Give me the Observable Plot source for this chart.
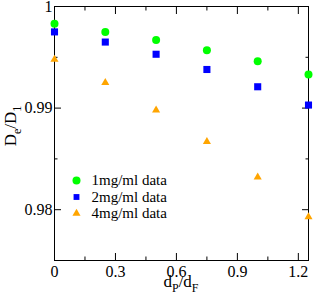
<!DOCTYPE html>
<html>
<head>
<meta charset="utf-8">
<script src="https://cdn.jsdelivr.net/npm/d3@7"></script>
<script src="https://cdn.jsdelivr.net/npm/@observablehq/plot@0.6"></script>
<style>
  html, body { margin: 0; padding: 0; background: #fff; }
  #chart svg { display: block; }
</style>
</head>
<body>
<div id="chart"></div>
<script>
const ratios = [0, 0.25, 0.5, 0.75, 1.0, 1.25];
const series1 = [0.9983, 0.9975, 0.9967, 0.9957, 0.9946, 0.9933];
const series2 = [0.9975, 0.9965, 0.9953, 0.9938, 0.9921, 0.9903];
const series4 = [0.9948, 0.9925, 0.9898, 0.9867, 0.9832, 0.9793];
const seriesNames = ["1mg/ml data", "2mg/ml data", "4mg/ml data"];
const seriesColors = ["#00ff00", "#0000ff", "#ffa500"];
const seriesSymbols = ["circle", "square", "triangle"];
const xMajor = [0, 0.3, 0.6, 0.9, 1.2];
const xMinor = [0.15, 0.45, 0.75, 1.05];
const yMajor = [0.98, 0.99, 1];
const yMinor = [0.985, 0.995];

const allValues = [series1, series2, series4];
const data = [];
allValues.forEach((vals, s) => vals.forEach((v, i) => data.push({x: ratios[i], y: v, s})));
const legend = seriesNames.map((name, s) => ({name, s}));

const font = "'Liberation Serif', 'Times New Roman', serif";
const fmtY = d => d === 1 ? "1" : d3.format(".2f")(d);
const fmtX = d => d === 0 ? "0" : String(d);
const tickOpts = {strokeWidth: 1, label: null};

const plot = Plot.plot({
  width: 313,
  height: 300,
  marginLeft: 54,
  marginTop: 6,
  marginRight: 5,
  marginBottom: 40,
  style: {fontFamily: font, fontSize: "16px", color: "#000", background: "#fff"},
  x: {domain: [0, 1.25]},
  y: {domain: [0.975, 1]},
  marks: [
    Plot.axisX(xMajor, {anchor: "bottom", tickSize: -7, tickFormat: fmtX, tickPadding: 12, fontSize: 16, ...tickOpts}),
    Plot.axisX(xMinor, {anchor: "bottom", tickSize: -3.5, text: null, ...tickOpts}),
    Plot.axisX(xMajor, {anchor: "top", tickSize: -7, text: null, ...tickOpts}),
    Plot.axisX(xMinor, {anchor: "top", tickSize: -3.5, text: null, ...tickOpts}),
    Plot.axisY(yMajor, {anchor: "left", tickSize: -7, tickFormat: fmtY, tickPadding: 9, fontSize: 16, ...tickOpts}),
    Plot.axisY(yMinor, {anchor: "left", tickSize: -3.5, text: null, ...tickOpts}),
    Plot.axisY(yMajor, {anchor: "right", tickSize: -7, text: null, ...tickOpts}),
    Plot.axisY(yMinor, {anchor: "right", tickSize: -3.5, text: null, ...tickOpts}),
    Plot.frame({stroke: "#000", strokeWidth: 1}),
    ...seriesNames.map((n, s) => Plot.dot(data.filter(d => d.s === s), {
      x: "x", y: "y", symbol: () => seriesSymbols[s], fill: seriesColors[s], stroke: "none",
      r: s === 2 ? 3 : 4
    })),
    ...legend.map((d, i) => Plot.dot([d], {
      frameAnchor: "top-left", dx: 22, dy: 174 + i * 16.5,
      symbol: () => seriesSymbols[i], fill: seriesColors[i], r: i === 2 ? 3 : (i === 1 ? 3.3 : 4)
    })),
    ...legend.map((d, i) => Plot.text([d], {
      frameAnchor: "top-left", dx: 37, dy: 174 + i * 16.5, text: "name",
      textAnchor: "start", lineAnchor: "middle", fontSize: 15, fill: "#000"
    }))
  ]
});
document.getElementById("chart").appendChild(plot);

// Axis titles with subscripts
const svg = d3.select(plot);
const xl = svg.append("text")
  .attr("x", 181).attr("y", 287)
  .attr("text-anchor", "middle")
  .attr("font-family", font).attr("font-size", 17).attr("fill", "#000");
xl.append("tspan").text("d");
xl.append("tspan").attr("font-size", 12).attr("dy", 5).text("P");
xl.append("tspan").attr("dy", -5).text("/d");
xl.append("tspan").attr("font-size", 12).attr("dy", 5).text("F");

const yl = svg.append("text")
  .attr("transform", "translate(16,126) rotate(-90)")
  .attr("text-anchor", "middle")
  .attr("font-family", font).attr("font-size", 17).attr("fill", "#000");
yl.append("tspan").text("D");
yl.append("tspan").attr("font-size", 12).attr("dy", 5).text("e");
yl.append("tspan").attr("dy", -5).text("/D");
yl.append("tspan").attr("font-size", 12).attr("dy", 5).text("1");
</script>
</body>
</html>
